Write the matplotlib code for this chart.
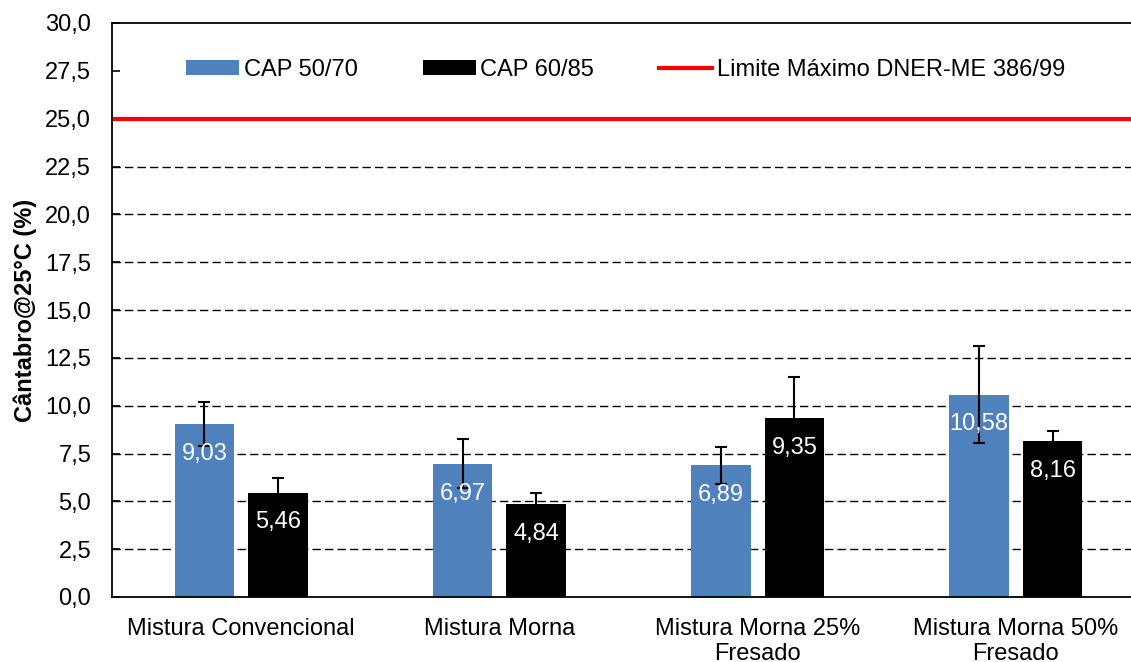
import matplotlib
matplotlib.use("Agg")
import matplotlib.pyplot as plt
import numpy as np

plt.rcParams['font.family'] = ['Liberation Sans', 'DejaVu Sans']

# data
categorias = ["Mistura Convencional", "Mistura Morna", "Mistura Morna 25%\nFresado", "Mistura Morna 50%\nFresado"]
cap_5070 = [9.03, 6.97, 6.89, 10.58]
cap_6085 = [5.46, 4.84, 9.35, 8.16]
erro_5070 = [1.16, 1.27, 0.97, 2.53]
erro_6085 = [0.76, 0.61, 2.13, 0.53]
limite = 25.0
yticks = np.arange(0, 30.01, 2.5)

fig = plt.figure(figsize=(11.31, 6.62), dpi=100)
ax = fig.add_axes([112/1131, 65/662, 1033/1131, 574/662])

x = np.arange(len(categorias))
w = 0.23
off = 0.1425

b1 = ax.bar(x - off, cap_5070, w, color="#4F81BD", label="CAP 50/70", zorder=2)
b2 = ax.bar(x + off, cap_6085, w, color="#000000", label="CAP 60/85", zorder=2)
ax.errorbar(x - off, cap_5070, yerr=erro_5070, fmt="none", ecolor="black", elinewidth=1.5, capsize=4.3, capthick=1.5, zorder=3)
ax.errorbar(x + off, cap_6085, yerr=erro_6085, fmt="none", ecolor="black", elinewidth=1.5, capsize=4.3, capthick=1.5, zorder=3)
lim = ax.axhline(limite, color="#FF0000", lw=3, label="Limite Máximo DNER-ME 386/99", zorder=2.5)

# value labels inside the bars
for bars, vals in ((b1, cap_5070), (b2, cap_6085)):
    for r, v in zip(bars, vals):
        ax.annotate(f"{v:.2f}".replace(".", ","), (r.get_x() + r.get_width()/2, v),
                    xytext=(0, -21.5), textcoords="offset points", ha="center", va="center",
                    color="white", fontsize=17, zorder=4)

ax.set_xlim(-0.5, 3.5)
ax.set_ylim(0, 30)
ax.set_yticks(yticks)
ax.set_yticklabels([f"{t:.1f}".replace(".", ",") for t in yticks])
ax.set_xticks(x)
ax.set_xticklabels(categorias, linespacing=1.2)
ax.tick_params(axis="y", direction="in", length=6, width=1.2, pad=15, labelsize=17, right=False)
ax.tick_params(axis="x", length=0, pad=15, labelsize=17)
ax.set_ylabel("Cântabro@25°C (%)", fontsize=17, fontweight="bold", labelpad=6)

ax.set_axisbelow(True)
ax.yaxis.grid(True, color="black", lw=1, linestyle=(0, (6, 3)))
for t, gl in zip(yticks, ax.get_ygridlines()):
    if t in (0, 25, 27.5, 30):
        gl.set_visible(False)

for s in ax.spines.values():
    s.set_linewidth(1.3)

ax.legend(handles=[b1, b2, lim], loc="center left", bbox_to_anchor=(0.0716, 0.918), ncol=3, frameon=False,
          fontsize=17, handlelength=2.25, handleheight=0.6, handletextpad=0.2,
          columnspacing=2.75, borderpad=0, borderaxespad=0)

plt.savefig("out.png", dpi=100)
